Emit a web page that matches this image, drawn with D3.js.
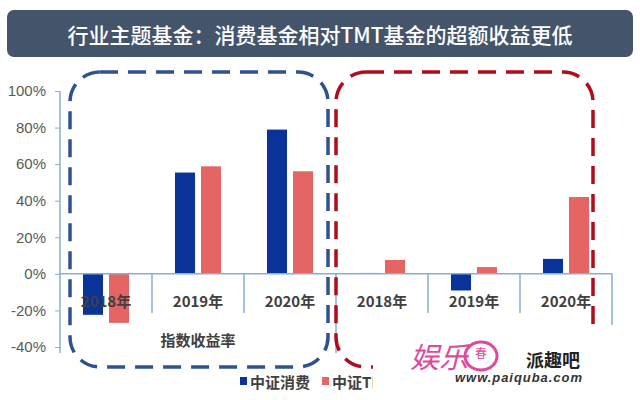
<!DOCTYPE html>
<html>
<head>
<meta charset="utf-8">
<script src="https://cdn.jsdelivr.net/npm/d3@7"></script>
<style>
  body { margin: 0; background: #fff; }
  svg { display: block; font-family: "Noto Sans CJK SC", "Liberation Sans", sans-serif; }
</style>
</head>
<body>
<div id="chart"></div>
<script>
// chart data
const title = '行业主题基金：消费基金相对TMT基金的超额收益更低';
const years = ['2018年', '2019年', '2020年'];
const groupLabels = ['指数收益率'];
const seriesNames = ['中证消费', '中证TMT'];
const consumerValues = [-22.4, 55.4, 78.9, 0.5, -9.1, 8.2];
const tmtValues = [-26.8, 58.8, 56.1, 7.6, 3.7, 42.0];
const yTicks = [-40, -20, 0, 20, 40, 60, 80, 100];

const width = 640;
const height = 400;
const colors = ['#0a3399', '#e56464'];
const axisColor = '#86aed6';

// one key per category: 2 groups x 3 years
const cats = d3.range(6).map(i => 'c' + i);
const rows = cats.map((c, i) => ({
  key: c,
  year: years[i % 3],
  values: [consumerValues[i], tmtValues[i]]
}));

const svg = d3.select('#chart')
  .append('svg')
  .attr('width', width)
  .attr('height', height);

// title bar
svg.append('rect')
  .attr('x', 7).attr('y', 10)
  .attr('width', 626).attr('height', 47)
  .attr('rx', 7)
  .attr('fill', '#44546a');

svg.append('text')
  .attr('x', 320).attr('y', 34)
  .attr('text-anchor', 'middle')
  .attr('dominant-baseline', 'central')
  .attr('fill', '#fff')
  .style('font-size', '21px')
  .style('font-weight', 500)
  .text(title);

const x0 = d3.scaleBand().domain(cats).range([60, 612]);
const x1 = d3.scaleBand().domain([0, 1]).range([0, x0.bandwidth()])
  .paddingInner(0.23).paddingOuter(0.885);
const y = d3.scaleLinear().domain([-40, 100]).range([347, 91]);

// y axis
const yAxis = svg.append('g')
  .attr('transform', 'translate(60,0)')
  .call(d3.axisLeft(y).tickValues(yTicks).tickSize(5).tickFormat(d => d + '%'));
yAxis.select('.domain').remove();
yAxis.selectAll('line').attr('stroke', axisColor);
yAxis.selectAll('text')
  .attr('x', -14)
  .attr('fill', '#595959')
  .style('font-family', '"Liberation Sans", Arial, sans-serif')
  .style('font-size', '15px');
svg.append('line')
  .attr('x1', 60).attr('x2', 60)
  .attr('y1', y(100)).attr('y2', 353)
  .attr('stroke', axisColor).attr('stroke-width', 1.5);

// bars
const barGroups = svg.append('g').selectAll('g')
  .data(rows)
  .enter()
  .append('g')
  .attr('transform', d => `translate(${x0(d.key)},0)`);

barGroups.selectAll('rect')
  .data(d => d.values.map((v, i) => ({ i, v })))
  .enter()
  .append('rect')
  .attr('x', d => x1(d.i))
  .attr('width', x1.bandwidth())
  .attr('y', d => y(Math.max(0, d.v)))
  .attr('height', d => Math.abs(y(d.v) - y(0)))
  .attr('fill', d => colors[d.i]);

// category axis
svg.append('line')
  .attr('x1', 60).attr('x2', 612)
  .attr('y1', y(0)).attr('y2', y(0))
  .attr('stroke', axisColor).attr('stroke-width', 1.5);

cats.forEach((c, i) => {
  const xr = x0(c) + x0.bandwidth();
  const isGroupEnd = (i % 3) === 2;
  svg.append('line')
    .attr('x1', xr).attr('x2', xr)
    .attr('y1', y(0)).attr('y2', isGroupEnd ? 353 : 313)
    .attr('stroke', axisColor).attr('stroke-width', 1.5);
});

svg.append('g').selectAll('text')
  .data(rows)
  .enter()
  .append('text')
  .attr('x', d => x0(d.key) + x0.bandwidth() / 2)
  .attr('y', 300)
  .attr('text-anchor', 'middle')
  .attr('dominant-baseline', 'central')
  .attr('fill', '#404040')
  .style('font-size', '15px')
  .style('font-weight', 'bold')
  .text(d => d.year);

svg.append('text')
  .attr('x', (x0('c0') + x0('c2') + x0.bandwidth()) / 2)
  .attr('y', 339)
  .attr('text-anchor', 'middle')
  .attr('dominant-baseline', 'central')
  .attr('fill', '#404040')
  .style('font-size', '15px')
  .style('font-weight', 'bold')
  .text(groupLabels[0]);

// dashed highlight boxes
const boxes = [
  { x: 70, w: 258, color: '#2f5190' },
  { x: 336, w: 257, color: '#b00d1c' }
];
svg.append('g').selectAll('rect')
  .data(boxes)
  .enter()
  .append('rect')
  .attr('x', d => d.x).attr('y', 72)
  .attr('width', d => d.w).attr('height', 295)
  .attr('rx', 30)
  .attr('fill', 'none')
  .attr('stroke', d => d.color)
  .attr('stroke-width', 3.5)
  .attr('stroke-dasharray', '18 10');

// legend
const legend = svg.append('g').attr('transform', 'translate(240,381)');
const legendItems = legend.selectAll('g')
  .data(seriesNames)
  .enter()
  .append('g')
  .attr('transform', (_, i) => `translate(${i * 82},0)`);
legendItems.append('rect')
  .attr('x', 0).attr('y', -4)
  .attr('width', 7).attr('height', 8)
  .attr('fill', (_, i) => colors[i]);
legendItems.append('text')
  .attr('x', 10)
  .attr('dominant-baseline', 'central')
  .attr('fill', '#404040')
  .style('font-size', '15px')
  .style('font-weight', 'bold')
  .text(d => d);

// watermark overlay
svg.append('rect')
  .attr('x', 373).attr('y', 325)
  .attr('width', 267).attr('height', 75)
  .attr('fill', '#fff');
const wm = svg.append('g');
wm.append('text')
  .attr('x', 410).attr('y', 368)
  .attr('fill', '#e0489c')
  .style('font-size', '29px')
  .style('font-style', 'italic')
  .text('娱乐');
wm.append('ellipse')
  .attr('cx', 481).attr('cy', 356)
  .attr('rx', 16).attr('ry', 14)
  .attr('fill', 'none')
  .attr('stroke', '#e0489c')
  .attr('stroke-width', 3);
wm.append('text')
  .attr('x', 481).attr('y', 352)
  .attr('text-anchor', 'middle')
  .attr('dominant-baseline', 'central')
  .attr('fill', '#e0489c')
  .style('font-size', '12px')
  .text('春');
wm.append('text')
  .attr('x', 553).attr('y', 359)
  .attr('text-anchor', 'middle')
  .attr('dominant-baseline', 'central')
  .attr('fill', '#222')
  .style('font-size', '18px')
  .style('font-weight', 'bold')
  .text('派趣吧');
wm.append('text')
  .attr('x', 455).attr('y', 382)
  .attr('fill', '#333')
  .attr('textLength', 127)
  .style('font-family', '"Liberation Sans", Arial, sans-serif')
  .style('font-size', '13px')
  .style('font-weight', 'bold')
  .style('font-style', 'italic')
  .text('www.paiquba.com');
</script>
</body>
</html>
